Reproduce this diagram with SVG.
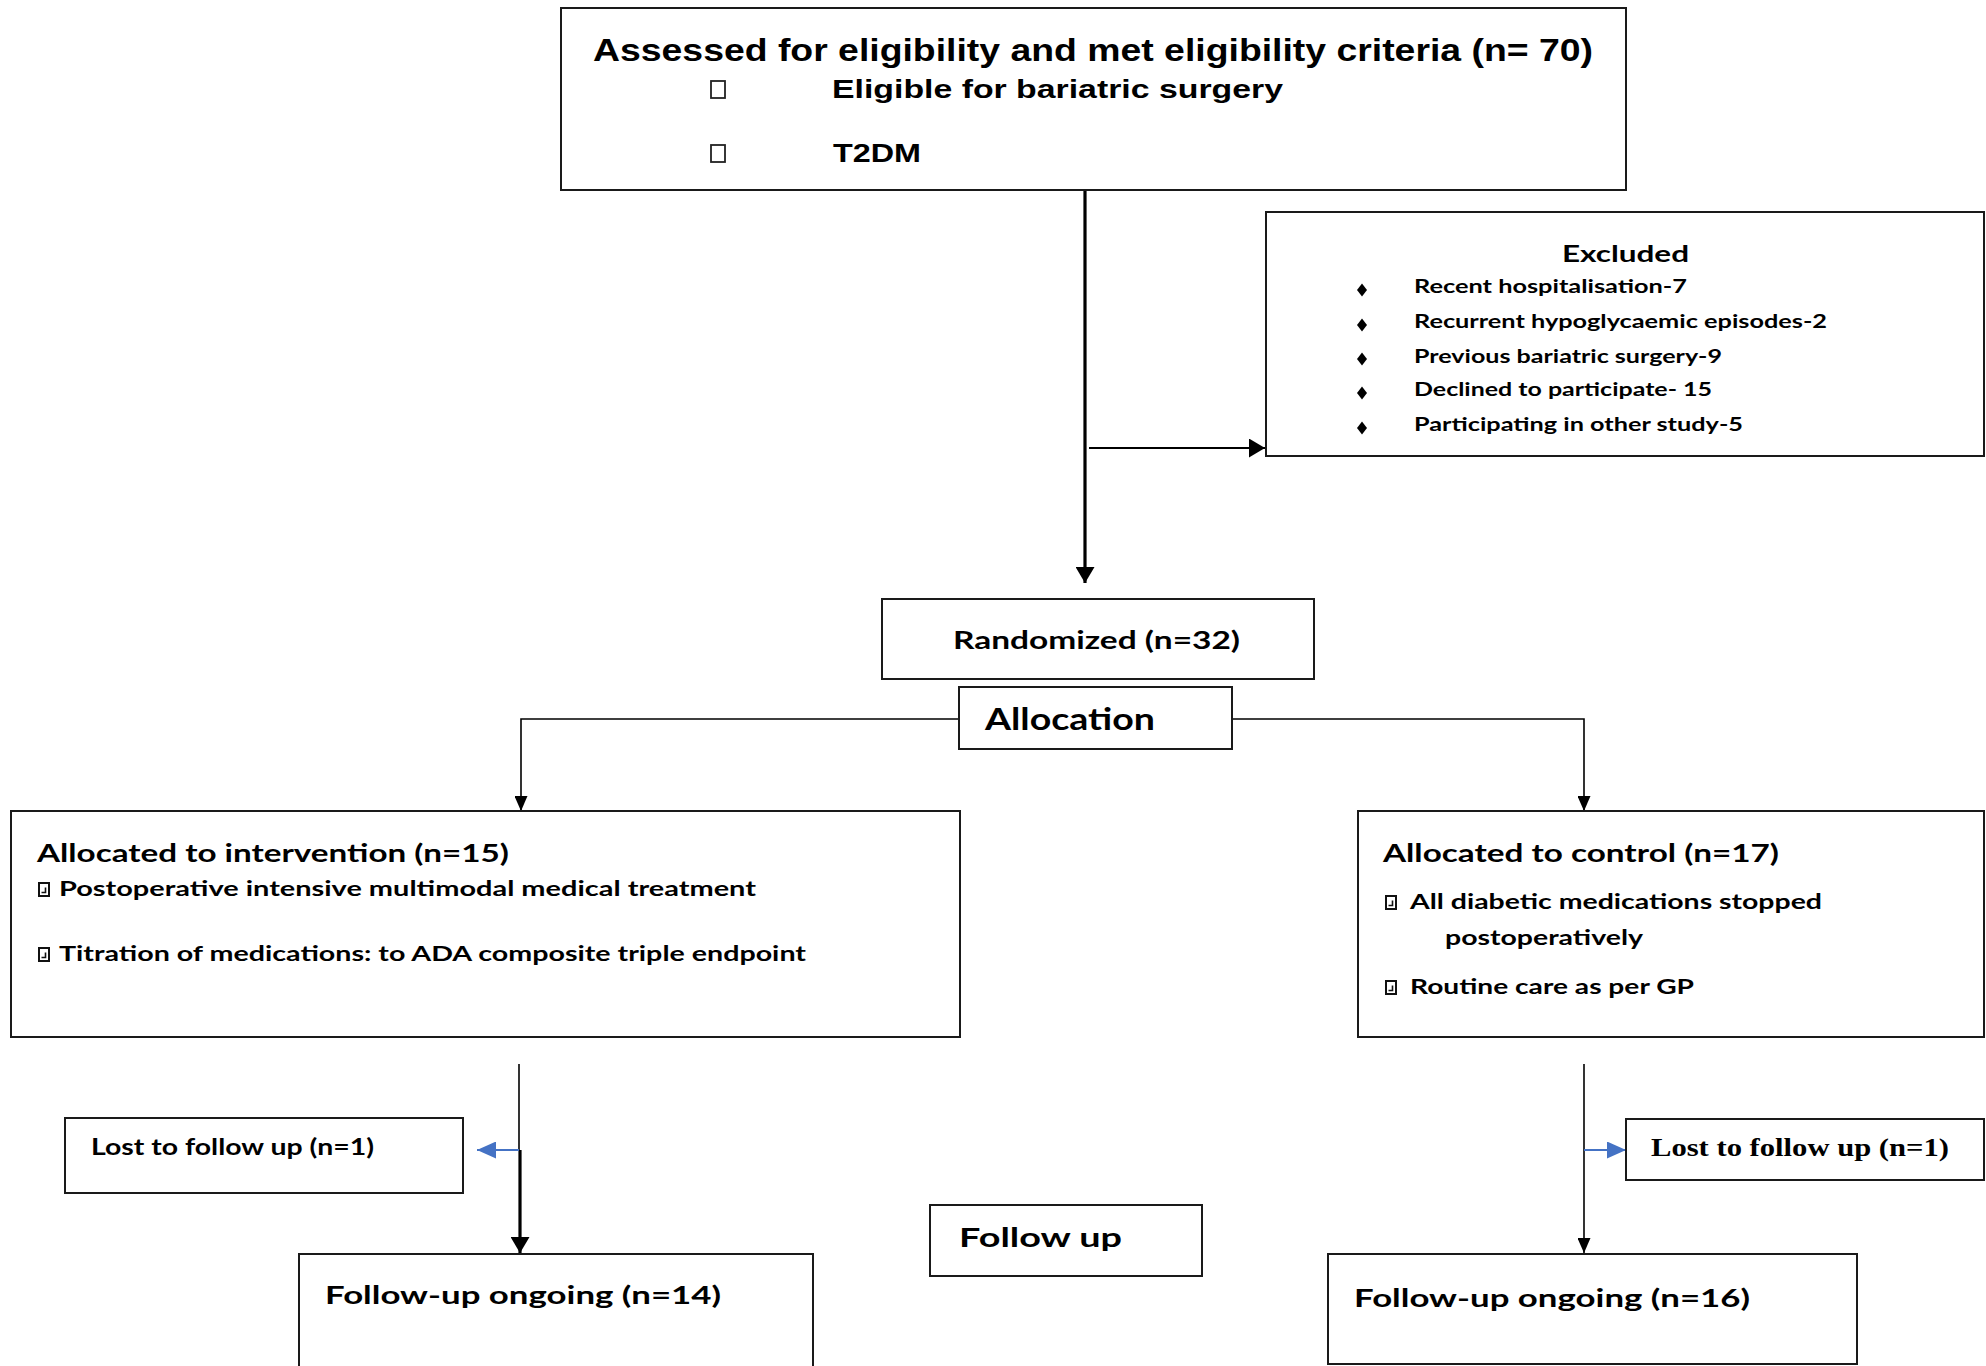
<svg xmlns="http://www.w3.org/2000/svg" width="1986" height="1366" viewBox="0 0 1986 1366">
<defs>
<style>
.box{fill:#fff;stroke:#1a1a1a;stroke-width:2}
.ar{font-family:"Liberation Sans",Arial,sans-serif;font-weight:bold;fill:#000}
.cb{font-family:Lato,"Open Sans",sans-serif;font-weight:bold;fill:#000}
.tm{font-family:"Liberation Serif","Times New Roman",serif;font-weight:bold;fill:#000}
.ln{fill:none;stroke:#000}
.blue{fill:none;stroke:#4472C4;stroke-width:1.8}
.ico{fill:#fff;stroke:#111;stroke-width:2}
.icm{fill:none;stroke:#111;stroke-width:1.6}
</style>
<marker id="ahB" viewBox="0 0 10 10" refX="10" refY="5" markerWidth="16" markerHeight="19" markerUnits="userSpaceOnUse" orient="auto" preserveAspectRatio="none"><path d="M0,0 L10,5 L0,10 z" fill="#000"/></marker>
<marker id="ahS" viewBox="0 0 10 10" refX="10" refY="5" markerWidth="15" markerHeight="13" markerUnits="userSpaceOnUse" orient="auto" preserveAspectRatio="none"><path d="M0,0 L10,5 L0,10 z" fill="#000"/></marker>
<marker id="ahBl" viewBox="0 0 10 10" refX="10" refY="5" markerWidth="19" markerHeight="17" markerUnits="userSpaceOnUse" orient="auto" preserveAspectRatio="none"><path d="M0,0 L10,5 L0,10 z" fill="#4472C4"/></marker>
</defs>
<rect width="1986" height="1366" fill="#fff"/>

<g id="connectors">
<line class="ln" x1="1085" y1="190" x2="1085" y2="583" stroke-width="3.2" marker-end="url(#ahB)"/>
<line class="ln" x1="1089" y1="448" x2="1265" y2="448" stroke-width="2" marker-end="url(#ahB)"/>
<polyline class="ln" points="959,719 521,719 521,811" stroke-width="1.6" marker-end="url(#ahS)"/>
<polyline class="ln" points="1232,719 1584,719 1584,811" stroke-width="1.6" marker-end="url(#ahS)"/>
<line class="ln" x1="519" y1="1064" x2="519" y2="1151" stroke-width="1.6"/>
<line class="ln" x1="520" y1="1150" x2="520" y2="1253" stroke-width="3.2" marker-end="url(#ahB)"/>
<line class="blue" x1="519" y1="1150" x2="477" y2="1150" marker-end="url(#ahBl)"/>
<line class="ln" x1="1584" y1="1064" x2="1584" y2="1253" stroke-width="1.6" marker-end="url(#ahS)"/>
<line class="blue" x1="1584" y1="1150" x2="1626" y2="1150" marker-end="url(#ahBl)"/>
</g>

<g id="assessed">
<rect class="box" x="561" y="8" width="1065" height="182"/>
<text class="ar" x="593" y="61" font-size="31.5" textLength="1000" lengthAdjust="spacingAndGlyphs">Assessed for eligibility and met eligibility criteria (n= 70)</text>
<rect x="711" y="81" width="14" height="17" fill="none" stroke="#222" stroke-width="1.8"/>
<text class="ar" x="832" y="98" font-size="26.5" textLength="451" lengthAdjust="spacingAndGlyphs">Eligible for bariatric surgery</text>
<rect x="711" y="145" width="14" height="17" fill="none" stroke="#222" stroke-width="1.8"/>
<text class="ar" x="833" y="162" font-size="26.5" textLength="88" lengthAdjust="spacingAndGlyphs">T2DM</text>
</g>

<g id="excluded">
<rect class="box" x="1266" y="212" width="718" height="244"/>
<text class="cb" x="1562" y="262" font-size="23.5" textLength="127" lengthAdjust="spacingAndGlyphs">Excluded</text>
<g fill="#000">
<polygon points="1362,283.5 1367,290 1362,296.5 1357,290"/>
<polygon points="1362,318.5 1367,325 1362,331.5 1357,325"/>
<polygon points="1362,352.5 1367,359 1362,365.5 1357,359"/>
<polygon points="1362,386.5 1367,393 1362,399.5 1357,393"/>
<polygon points="1362,421.5 1367,428 1362,434.5 1357,428"/>
</g>
<text class="cb" x="1414" y="293" font-size="19.5" textLength="273" lengthAdjust="spacingAndGlyphs">Recent hospitalisation-7</text>
<text class="cb" x="1414" y="328" font-size="19.5" textLength="413" lengthAdjust="spacingAndGlyphs">Recurrent hypoglycaemic episodes-2</text>
<text class="cb" x="1414" y="363" font-size="19.5" textLength="308" lengthAdjust="spacingAndGlyphs">Previous bariatric surgery-9</text>
<text class="cb" x="1414" y="396" font-size="19.5" textLength="298" lengthAdjust="spacingAndGlyphs">Declined to participate- 15</text>
<text class="cb" x="1414" y="431" font-size="19.5" textLength="329" lengthAdjust="spacingAndGlyphs">Participating in other study-5</text>
</g>

<g id="randomized">
<rect class="box" x="882" y="599" width="432" height="80"/>
<text class="cb" x="953" y="649" font-size="25.5" textLength="287" lengthAdjust="spacingAndGlyphs">Randomized (n=32)</text>
</g>

<g id="allocation">
<rect class="box" x="959" y="687" width="273" height="62"/>
<text class="cb" x="985" y="730" font-size="30" textLength="170" lengthAdjust="spacingAndGlyphs">Allocation</text>
</g>

<g id="intervention">
<rect class="box" x="11" y="811" width="949" height="226"/>
<text class="cb" x="37" y="862" font-size="24" textLength="472" lengthAdjust="spacingAndGlyphs">Allocated to intervention (n=15)</text>
<rect class="ico" x="39" y="883" width="10" height="13"/>
<path class="icm" d="M41.5,892.5 h4 v-5"/>
<text class="cb" x="59" y="896" font-size="21" textLength="697" lengthAdjust="spacingAndGlyphs">Postoperative intensive multimodal medical treatment</text>
<rect class="ico" x="39" y="948" width="10" height="13"/>
<path class="icm" d="M41.5,957.5 h4 v-5"/>
<text class="cb" x="59" y="961" font-size="21" textLength="747" lengthAdjust="spacingAndGlyphs">Titration of medications: to ADA composite triple endpoint</text>
</g>

<g id="control">
<rect class="box" x="1358" y="811" width="626" height="226"/>
<text class="cb" x="1383" y="862" font-size="24" textLength="396" lengthAdjust="spacingAndGlyphs">Allocated to control (n=17)</text>
<rect class="ico" x="1386" y="896" width="10" height="13"/>
<path class="icm" d="M1388.5,905.5 h4 v-5"/>
<text class="cb" x="1410" y="909" font-size="21" textLength="412" lengthAdjust="spacingAndGlyphs">All diabetic medications stopped</text>
<text class="cb" x="1445" y="945" font-size="21" textLength="198" lengthAdjust="spacingAndGlyphs">postoperatively</text>
<rect class="ico" x="1386" y="981" width="10" height="13"/>
<path class="icm" d="M1388.5,990.5 h4 v-5"/>
<text class="cb" x="1410" y="994" font-size="21" textLength="284" lengthAdjust="spacingAndGlyphs">Routine care as per GP</text>
</g>

<g id="lost-left">
<rect class="box" x="65" y="1118" width="398" height="75"/>
<text class="cb" x="91" y="1155" font-size="22" textLength="283" lengthAdjust="spacingAndGlyphs">Lost to follow up (n=1)</text>
</g>

<g id="lost-right">
<rect class="box" x="1626" y="1119" width="358" height="61"/>
<text class="tm" x="1651" y="1156" font-size="25" textLength="298" lengthAdjust="spacingAndGlyphs">Lost to follow up (n=1)</text>
</g>

<g id="follow-up">
<rect class="box" x="930" y="1205" width="272" height="71"/>
<text class="cb" x="959" y="1247" font-size="26" textLength="163" lengthAdjust="spacingAndGlyphs">Follow up</text>
</g>

<g id="ongoing-left">
<rect class="box" x="299" y="1254" width="514" height="130"/>
<text class="cb" x="325" y="1304" font-size="24.5" textLength="396" lengthAdjust="spacingAndGlyphs">Follow-up ongoing (n=14)</text>
</g>

<g id="ongoing-right">
<rect class="box" x="1328" y="1254" width="529" height="110"/>
<text class="cb" x="1354" y="1307" font-size="24.5" textLength="396" lengthAdjust="spacingAndGlyphs">Follow-up ongoing (n=16)</text>
</g>
</svg>
